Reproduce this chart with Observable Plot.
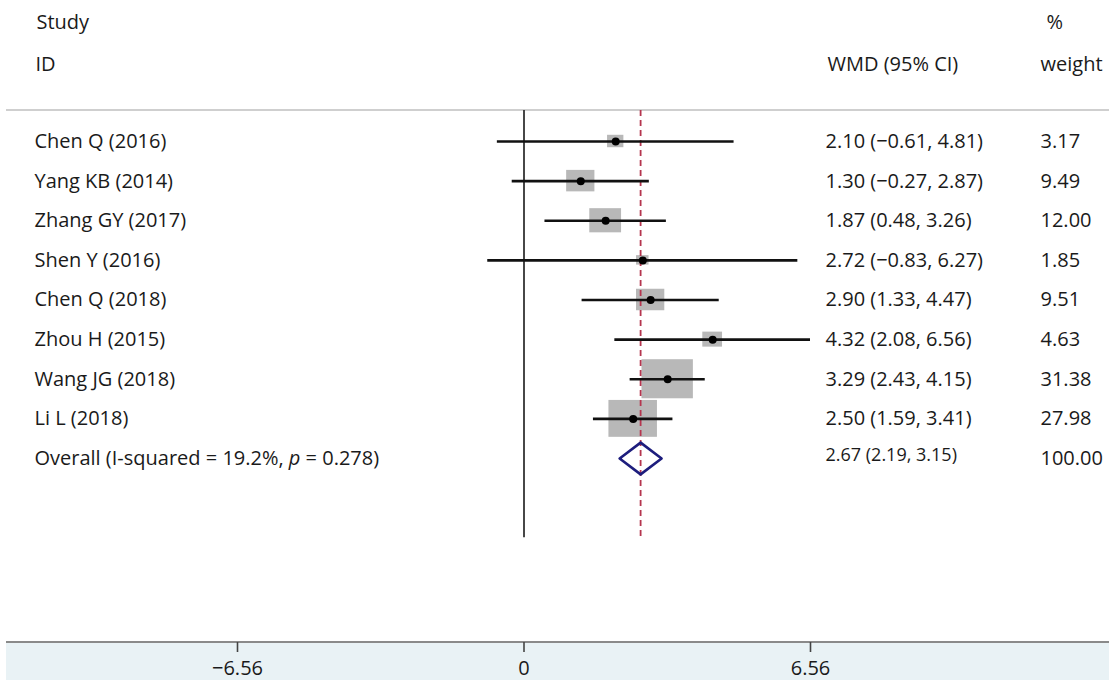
<!DOCTYPE html>
<html>
<head>
<meta charset="utf-8">
<script src="https://cdn.jsdelivr.net/npm/d3@7"></script>
<script src="https://cdn.jsdelivr.net/npm/@observablehq/plot@0.6"></script>
<style>
  html, body { margin: 0; padding: 0; background: #fff; }
  #chart svg { display: block; }
</style>
</head>
<body>
<div id="chart"></div>
<script>
// ---- Data ----
const studies = ["Chen Q (2016)", "Yang KB (2014)", "Zhang GY (2017)", "Shen Y (2016)", "Chen Q (2018)", "Zhou H (2015)", "Wang JG (2018)", "Li L (2018)"];
const wmd = [2.10, 1.30, 1.87, 2.72, 2.90, 4.32, 3.29, 2.50];
const lower = [-0.61, -0.27, 0.48, -0.83, 1.33, 2.08, 2.43, 1.59];
const upper = [4.81, 2.87, 3.26, 6.27, 4.47, 6.56, 4.15, 3.41];
const weights = [3.17, 9.49, 12.00, 1.85, 9.51, 4.63, 31.38, 27.98];
const weightLabels = ["3.17", "9.49", "12.00", "1.85", "9.51", "4.63", "31.38", "27.98"];

const overallLabel = "Overall (I-squared = 19.2%, p = 0.278)";
const overallEst = 2.67, overallLo = 2.19, overallHi = 3.15;
const overallWeight = "100.00";

const tickValues = [-6.56, 0, 6.56];
const tickLabels = ["\u22126.56", "0", "6.56"];

const fmt = v => (v < 0 ? "\u2212" : "") + Math.abs(v).toFixed(2);

const rows = studies.map((name, i) => ({
  i, name, est: wmd[i], lo: lower[i], hi: upper[i], w: weights[i],
  ci: `${fmt(wmd[i])} (${fmt(lower[i])}, ${fmt(upper[i])})`,
  wl: weightLabels[i]
}));
const oRow = studies.length;
const overall = [{
  i: oRow, name: overallLabel, est: overallEst, lo: overallLo, hi: overallHi,
  ci: `${fmt(overallEst)} (${fmt(overallLo)}, ${fmt(overallHi)})`, wl: overallWeight
}];
const diamond = [
  {x: overallLo, y: oRow}, {x: overallEst, y: oRow - 0.4},
  {x: overallHi, y: oRow}, {x: overallEst, y: oRow + 0.4}, {x: overallLo, y: oRow}
];

const font = "'Open Sans', sans-serif";
const boxW = 0.105;   // half-width factor (data units per sqrt(weight))
const boxH = 0.088;   // half-height factor (row units per sqrt(weight))

// Background band + rules (decorations)
function decor(index, scales, values, dims) {
  const g = d3.create("svg:g");
  const yAxis = dims.height - dims.marginBottom;
  g.append("rect").attr("x", 6).attr("y", yAxis).attr("width", dims.width - 6)
    .attr("height", dims.marginBottom).attr("fill", "#e9f2f5");
  g.append("line").attr("x1", 6).attr("x2", dims.width).attr("y1", yAxis).attr("y2", yAxis)
    .attr("stroke", "#8a8a8a").attr("stroke-width", 2.2);
  g.append("line").attr("x1", 6).attr("x2", dims.width).attr("y1", 110).attr("y2", 110)
    .attr("stroke", "#cfcfcf").attr("stroke-width", 2);
  return g.node();
}

const chart = Plot.plot({
  width: 1109,
  height: 680,
  marginTop: 0, marginLeft: 0, marginRight: 0, marginBottom: 38,
  style: {fontFamily: font, fontSize: "20px", color: "#1a1a1a", background: "#fff"},
  x: {domain: [-6.56, 6.56], range: [237, 810]},
  y: {domain: [0, 8], range: [141, 458], axis: null},
  marks: [
    decor,
    Plot.axisX({ticks: tickValues, tickFormat: (d, i) => tickLabels[i], tickSize: 10, tickPadding: 8,
      fontSize: 20, stroke: "#444", strokeWidth: 1.6, fill: "#1a1a1a"}),
    Plot.ruleX([0], {y1: -0.78, y2: 10, stroke: "#333", strokeWidth: 1.8}),
    Plot.rect(rows, {
      x1: d => d.est - boxW * Math.sqrt(d.w), x2: d => d.est + boxW * Math.sqrt(d.w),
      y1: d => d.i - boxH * Math.sqrt(d.w), y2: d => d.i + boxH * Math.sqrt(d.w),
      fill: "#b8b8b8"
    }),
    Plot.ruleX([overallEst], {y1: -0.78, y2: 10, stroke: "#b5364f", strokeWidth: 1.8, strokeDasharray: "6,4"}),
    Plot.ruleY(rows, {y: "i", x1: "lo", x2: "hi", stroke: "#111", strokeWidth: 2.6}),
    Plot.dot(rows, {x: "est", y: "i", r: 4, fill: "#000", stroke: null}),
    Plot.line(diamond, {x: "x", y: "y", stroke: "#1d1d7d", strokeWidth: 2.6, curve: "linear"}),
    // left column
    Plot.text(rows.concat(overall), {y: "i", text: "name", frameAnchor: "left", dx: 34, textAnchor: "start", fill: "#1a1a1a", fontSize: 20}),
    // CI column
    Plot.text(rows, {y: "i", text: "ci", frameAnchor: "left", dx: 825, textAnchor: "start", fill: "#1a1a1a", fontSize: 20}),
    Plot.text(overall, {y: d => d.i - 0.08, text: "ci", frameAnchor: "left", dx: 825, textAnchor: "start", fill: "#1a1a1a", fontSize: 18}),
    // weight column
    Plot.text(rows.concat(overall), {y: "i", text: "wl", frameAnchor: "left", dx: 1040, textAnchor: "start", fill: "#1a1a1a", fontSize: 20}),
    // headers
    Plot.text(["Study"], {frameAnchor: "top-left", dx: 36, dy: 22, lineAnchor: "middle", textAnchor: "start", fontSize: 20, fill: "#1a1a1a"}),
    Plot.text(["ID"], {frameAnchor: "top-left", dx: 35, dy: 64, lineAnchor: "middle", textAnchor: "start", fontSize: 20, fill: "#1a1a1a"}),
    Plot.text(["WMD (95% CI)"], {frameAnchor: "top-left", dx: 827, dy: 64, lineAnchor: "middle", textAnchor: "start", fontSize: 20, fill: "#1a1a1a"}),
    Plot.text(["%"], {frameAnchor: "top-left", dx: 1046, dy: 22, lineAnchor: "middle", textAnchor: "start", fontSize: 20, fill: "#1a1a1a"}),
    Plot.text(["weight"], {frameAnchor: "top-left", dx: 1040, dy: 64, lineAnchor: "middle", textAnchor: "start", fontSize: 20, fill: "#1a1a1a"})
  ]
});

// italic "p" in overall label
d3.select(chart).selectAll("text").each(function () {
  if (this.textContent === overallLabel) {
    const t = d3.select(this);
    t.text(null);
    t.append("tspan").text("Overall (I-squared = 19.2%, ");
    t.append("tspan").attr("font-style", "italic").text("p");
    t.append("tspan").text(" = 0.278)");
  }
});

document.getElementById("chart").appendChild(chart);
</script>
</body>
</html>
